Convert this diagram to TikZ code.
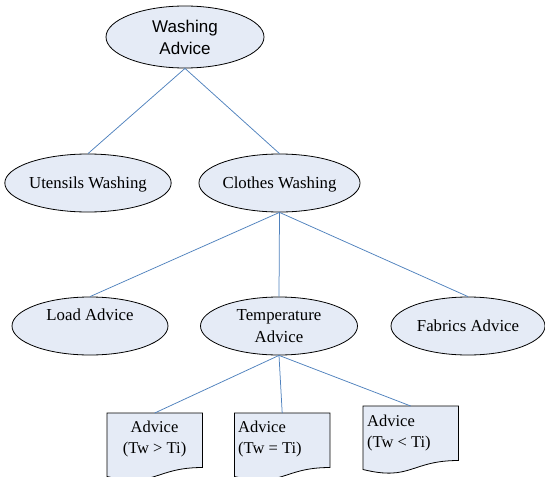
\documentclass[tikz,border=0pt]{standalone}
\usepackage{fontspec}
\setmainfont{Liberation Serif}
\newfontfamily\arialfont{Liberation Sans}
\usetikzlibrary{shapes.geometric}
\definecolor{nodefill}{RGB}{229,235,246}
\definecolor{linkblue}{RGB}{79,129,189}
\tikzset{
  oval/.style={ellipse, draw=black, line width=0.8pt, fill=nodefill,
    minimum width=157pt, minimum height=58pt, inner sep=0pt, align=center,
    font=\fontsize{16.8}{22}\selectfont},
  oneline/.style={text height=11.5pt, text depth=0pt},
  link/.style={draw=linkblue, line width=0.75pt},
  docanchor/.style={rectangle, minimum width=95pt, minimum height=68pt,
    inner sep=0pt, anchor=north west},
  docshape/.style={draw=black, line width=0.8pt, fill=nodefill},
  doctext/.style={inner sep=0pt, font=\fontsize{16.5}{21}\selectfont},
}
\newcommand\docpath[1]{%
  \path[docshape] (#1.north west) -- (#1.north east) -- ([yshift=-54.5pt]#1.north east)
    .. controls ([xshift=-47.5pt,yshift=-54.5pt]#1.north east)
       and ([xshift=-47.5pt,yshift=-75.3pt]#1.north east)
    .. ([yshift=-63.5pt]#1.north west) -- cycle;}
\begin{document}
\begin{tikzpicture}[x=1pt,y=-1pt]
\useasboundingbox (0,0) rectangle (545,476);
\clip (0,0) rectangle (545,476);

% ellipses
\node[oval, minimum width=158pt, minimum height=62pt,
      font=\arialfont\fontsize{17}{22}\selectfont] (wash) at (185,37) {Washing\\Advice};
\node[oval, oneline, minimum width=158pt] (ute) at (88,183) {Utensils Washing};
\node[oval, oneline] (clo) at (279.5,183) {Clothes Washing};
\node[oval, text height=11.5pt, text depth=23.5pt, minimum width=156pt] (load) at (90,326) {Load Advice};
\node[oval] (temp) at (279,326) {Temperature\\Advice};
\node[oval, oneline, minimum width=154pt] (fab) at (468,326) {Fabrics Advice};

% documents
\node[docanchor] (d1) at (107,413) {};
\node[docanchor] (d2) at (234.5,413) {};
\node[docanchor] (d3) at (363,406) {};
\docpath{d1}
\docpath{d2}
\docpath{d3}
\node[doctext, anchor=north, align=center] (d1t) at (154.5,420.7) {Advice\\(Tw > Ti)};
\node[doctext, anchor=north west, align=left] (d2t) at (238,420.7) {Advice\\(Tw = Ti)};
\node[doctext, anchor=north west, align=left] (d3t) at (367,414.7) {Advice\\(Tw < Ti)};

% connectors
\draw[link] (wash.south) -- (ute.north);
\draw[link] (wash.south) -- (clo.north);
\draw[link] (clo.south) -- (load.north);
\draw[link] (clo.south) -- (temp.north);
\draw[link] (clo.south) -- (fab.north);
\draw[link] (temp.south) -- (d1.north);
\draw[link] (temp.south) -- (d2.north);
\draw[link] (temp.south) -- (d3.north);
\end{tikzpicture}
\end{document}
